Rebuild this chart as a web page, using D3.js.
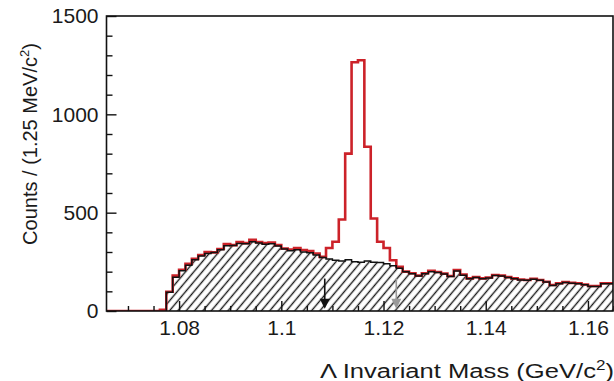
<!DOCTYPE html>
<html><head><meta charset="utf-8">
<script src="https://cdn.jsdelivr.net/npm/d3@7"></script>
<style>
body{margin:0;background:#fff}
svg{display:block}
text{font-family:"Liberation Sans",Arial,Helvetica,sans-serif;fill:#1a1a1a}
</style>
</head><body>
<svg id="chart" width="614" height="381"></svg>
<script>
// Histogram binning: 1.25 MeV/c^2 bins starting at 1.065 GeV/c^2
const binStart = 1.065;
const binWidth = 0.00125;

// All Λ candidates (red outline)
const totalCounts = [
  0, 0, 0, 0, 0, 0, 0, 0, 0, 6,
  98, 180, 210, 240, 265, 285, 300, 298, 315, 340,
  335, 350, 345, 362, 350, 345, 348, 335, 318, 312,
  320, 310, 305, 292, 275, 320, 352, 465, 800, 1265,
  1275, 835, 470, 352, 320, 258, 225, 200, 192, 180,
  192, 205, 198, 190, 178, 208, 185, 166, 172, 166,
  170, 183, 180, 172, 166, 160, 158, 164, 158, 149,
  132, 141, 147, 143, 141, 135, 127, 127, 141, 141
];

// Background estimate (black outline, hatched)
const backgroundCounts = [
  0, 0, 0, 0, 0, 0, 0, 0, 0, 0,
  95, 172, 205, 232, 260, 280, 292, 298, 312, 332,
  333, 343, 342, 352, 346, 340, 342, 330, 315, 306,
  312, 300, 296, 285, 272, 264, 258, 254, 260, 250,
  248, 254, 248, 246, 240, 230, 218, 200, 190, 178,
  190, 200, 196, 188, 176, 204, 182, 164, 170, 164,
  168, 180, 178, 170, 164, 158, 156, 162, 156, 147,
  130, 139, 145, 141, 139, 133, 125, 125, 139, 139
];

const xMajorTicks = [1.08, 1.10, 1.12, 1.14, 1.16];
const xTickLabels = ["1.08", "1.1", "1.12", "1.14", "1.16"];
const yMajorTicks = [0, 500, 1000, 1500];
const yTickLabels = ["0", "500", "1000", "1500"];

// Mass-window cut markers
const cutMarks = [1.1085, 1.1225];
const cutColors = ["#111", "#9a9a9a"];

const svg = d3.select("#chart");
const frame = {left: 106.5, right: 613, top: 16, bottom: 311};

const x = d3.scaleLinear().domain([1.0658, 1.1649]).range([frame.left, frame.right]);
const y = d3.scaleLinear().domain([0, 1500]).range([frame.bottom, frame.top]);

const defs = svg.append("defs");
defs.append("clipPath").attr("id", "plotClip")
  .append("rect")
  .attr("x", frame.left).attr("y", frame.top - 5)
  .attr("width", frame.right - frame.left).attr("height", frame.bottom - frame.top + 5);

const hatch = defs.append("pattern")
  .attr("id", "hatch")
  .attr("patternUnits", "userSpaceOnUse")
  .attr("width", 6.4).attr("height", 10)
  .attr("patternTransform", "rotate(40)");
hatch.append("line")
  .attr("x1", 3.2).attr("y1", -1).attr("x2", 3.2).attr("y2", 11)
  .attr("stroke", "#1a1a1a").attr("stroke-width", 1.4);

// Build step points: one per bin low edge plus the closing upper edge
function stepPoints(counts, firstBin) {
  const pts = [];
  for (let i = firstBin; i < counts.length; i++) {
    pts.push({e: binStart + i * binWidth, v: counts[i]});
  }
  pts.push({e: binStart + counts.length * binWidth, v: counts[counts.length - 1]});
  return pts;
}

const plotG = svg.append("g").attr("clip-path", "url(#plotClip)");

const bgFirst = backgroundCounts.findIndex(v => v > 0);
const bgPts = [{e: binStart + bgFirst * binWidth, v: 0}].concat(stepPoints(backgroundCounts, bgFirst));

const area = d3.area()
  .x(d => x(d.e)).y0(y(0)).y1(d => y(d.v))
  .curve(d3.curveStepAfter);
const line = d3.line()
  .x(d => x(d.e)).y(d => y(d.v))
  .curve(d3.curveStepAfter);

// hatched background region
plotG.append("path")
  .datum(stepPoints(backgroundCounts, bgFirst))
  .attr("d", area)
  .attr("fill", "url(#hatch)");

// total distribution
plotG.append("path")
  .datum(stepPoints(totalCounts, 0))
  .attr("d", line)
  .attr("fill", "none")
  .attr("stroke", "#cc2229")
  .attr("stroke-width", 2.6);

// background outline
plotG.append("path")
  .datum(bgPts)
  .attr("d", line)
  .attr("fill", "none")
  .attr("stroke", "#111")
  .attr("stroke-width", 1.5);

// cut arrows
cutMarks.forEach((m, i) => {
  const g = plotG.append("g");
  const cx = x(m);
  g.append("line")
    .attr("x1", cx).attr("x2", cx)
    .attr("y1", y(165)).attr("y2", y(60))
    .attr("stroke", cutColors[i]).attr("stroke-width", 1.6);
  g.append("path")
    .attr("d", `M${cx - 5},${y(62)}L${cx + 5},${y(62)}L${cx},${y(12)}Z`)
    .attr("fill", cutColors[i]);
});

// axes with inward ticks
const xMinor = d3.range(1.07, 1.1651, 0.005).filter(v => !xMajorTicks.some(t => Math.abs(t - v) < 1e-6));
const xAxisMinor = d3.axisBottom(x).tickValues(xMinor).tickSize(-5).tickFormat("");
const xAxisMajor = d3.axisBottom(x).tickValues(xMajorTicks).tickSize(-10).tickPadding(9)
  .tickFormat((d, i) => xTickLabels[i]);

const yMinor = d3.range(100, 1500, 100).filter(v => v % 500 !== 0);
const yAxisMinor = d3.axisLeft(y).tickValues(yMinor).tickSize(-6).tickFormat("");
const yAxisMajor = d3.axisLeft(y).tickValues(yMajorTicks).tickSize(-10).tickPadding(8)
  .tickFormat((d, i) => yTickLabels[i]);

function styleAxis(g) {
  g.select(".domain").remove();
  g.selectAll(".tick line").attr("stroke", "#111").attr("stroke-width", 1.4);
  g.selectAll("text").style("font-size", "21px").attr("fill", "#1a1a1a");
}

svg.append("g").attr("transform", `translate(0,${frame.bottom})`).call(xAxisMinor).call(styleAxis);
svg.append("g").attr("transform", `translate(0,${frame.bottom})`).call(xAxisMajor).call(styleAxis);
svg.append("g").attr("transform", `translate(${frame.left},0)`).call(yAxisMinor).call(styleAxis);
svg.append("g").attr("transform", `translate(${frame.left},0)`).call(yAxisMajor).call(styleAxis);

// frame
svg.append("rect")
  .attr("x", frame.left).attr("y", frame.top)
  .attr("width", frame.right - frame.left).attr("height", frame.bottom - frame.top)
  .attr("fill", "none").attr("stroke", "#111").attr("stroke-width", 1.6);

// axis titles
const xt = svg.append("text")
  .attr("transform", "translate(614,378) scale(1.22,1)")
  .attr("text-anchor", "end")
  .style("font-size", "21px");
xt.append("tspan").text("Λ Invariant Mass (GeV/c");
xt.append("tspan").attr("dy", -8).style("font-size", "14px").text("2");
xt.append("tspan").attr("dy", 8).text(")");

const yt = svg.append("text")
  .attr("transform", "translate(37,144) rotate(-90)")
  .attr("text-anchor", "middle")
  .style("font-size", "20px");
yt.append("tspan").text("Counts / (1.25 MeV/c");
yt.append("tspan").attr("dy", -8).style("font-size", "13px").text("2");
yt.append("tspan").attr("dy", 8).text(")");
</script>
</body></html>
